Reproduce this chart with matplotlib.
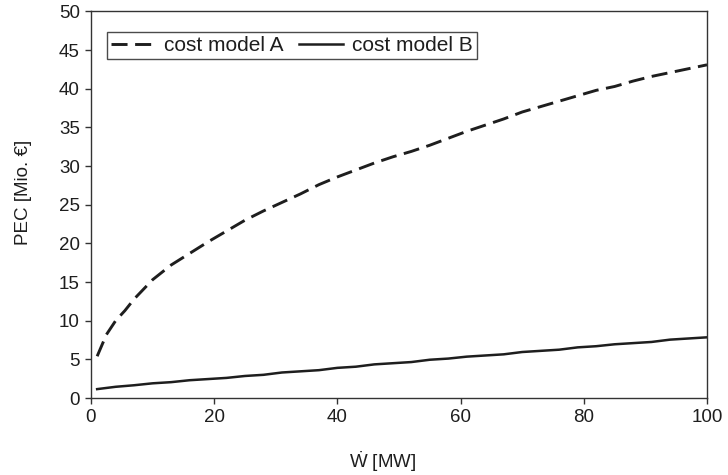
import matplotlib
matplotlib.use("Agg")
import matplotlib.pyplot as plt

plt.rcParams['font.family'] = ['Liberation Sans', 'DejaVu Sans']
plt.rcParams['mathtext.fontset'] = 'custom'
plt.rcParams['mathtext.rm'] = 'Liberation Sans'

# electrical power [MW] and purchased equipment cost [Mio. EUR]
power_mw = [1, 2.5, 4, 5.5, 7, 10, 13, 16, 19, 22, 25, 28, 31, 34, 37, 40, 43,
            46, 49, 52, 55, 58, 61, 64, 67, 70, 73, 76, 79, 82, 85, 88, 91,
            94, 97, 100]
pec_a = [5.4, 8.2, 10.0, 11.3, 12.8, 15.3, 17.2, 18.7, 20.2, 21.6, 23.0, 24.2,
         25.3, 26.4, 27.6, 28.6, 29.5, 30.4, 31.2, 31.9, 32.7, 33.6, 34.5,
         35.3, 36.1, 37.0, 37.7, 38.4, 39.1, 39.8, 40.3, 41.0, 41.6, 42.1,
         42.6, 43.1]
pec_b = [1.15, 1.3, 1.45, 1.55, 1.65, 1.9, 2.05, 2.3, 2.45, 2.6, 2.85, 3.0,
         3.3, 3.45, 3.6, 3.9, 4.05, 4.35, 4.5, 4.65, 4.95, 5.1, 5.35, 5.5,
         5.65, 5.95, 6.1, 6.25, 6.55, 6.7, 6.95, 7.1, 7.25, 7.55, 7.7, 7.85]

ink = '#1e1e1e'

fig = plt.figure(figsize=(7.28, 4.75), dpi=100)
ax = fig.add_axes([0.125, 0.1621, 0.8462, 0.8137])

ax.plot(power_mw, pec_a, color=ink, lw=2.1, dashes=(5.5, 2.6), label='cost model A')
ax.plot(power_mw, pec_b, color=ink, lw=1.8, label='cost model B')

ax.set_xlim(0, 100)
ax.set_ylim(0, 50)
ax.set_xticks(range(0, 101, 20))
ax.set_yticks(range(0, 51, 5))
ax.tick_params(direction='out', length=4, width=1, colors='#333333',
               labelsize=13.5, labelcolor=ink, pad=4)
for s in ax.spines.values():
    s.set_color('#333333')
    s.set_linewidth(1)

ax.set_xlabel(r'$\dot{\mathrm{W}}$ [MW]', fontsize=13.5, color=ink)
ax.set_ylabel('PEC [Mio. \u20ac]', fontsize=13.5, color=ink)
ax.xaxis.set_label_coords(0.474, -0.132)
ax.yaxis.set_label_coords(-0.096, 0.532)

leg = ax.legend(loc='upper left', bbox_to_anchor=(0.026, 0.947),
                borderaxespad=0, ncol=2, fontsize=15, frameon=True,
                fancybox=False, handlelength=2.1, handletextpad=0.43,
                columnspacing=0.75, borderpad=0.2)
leg.get_frame().set_edgecolor(ink)
leg.get_frame().set_linewidth(1)
for t in leg.get_texts():
    t.set_color(ink)

fig.savefig('out.png', dpi=100)
